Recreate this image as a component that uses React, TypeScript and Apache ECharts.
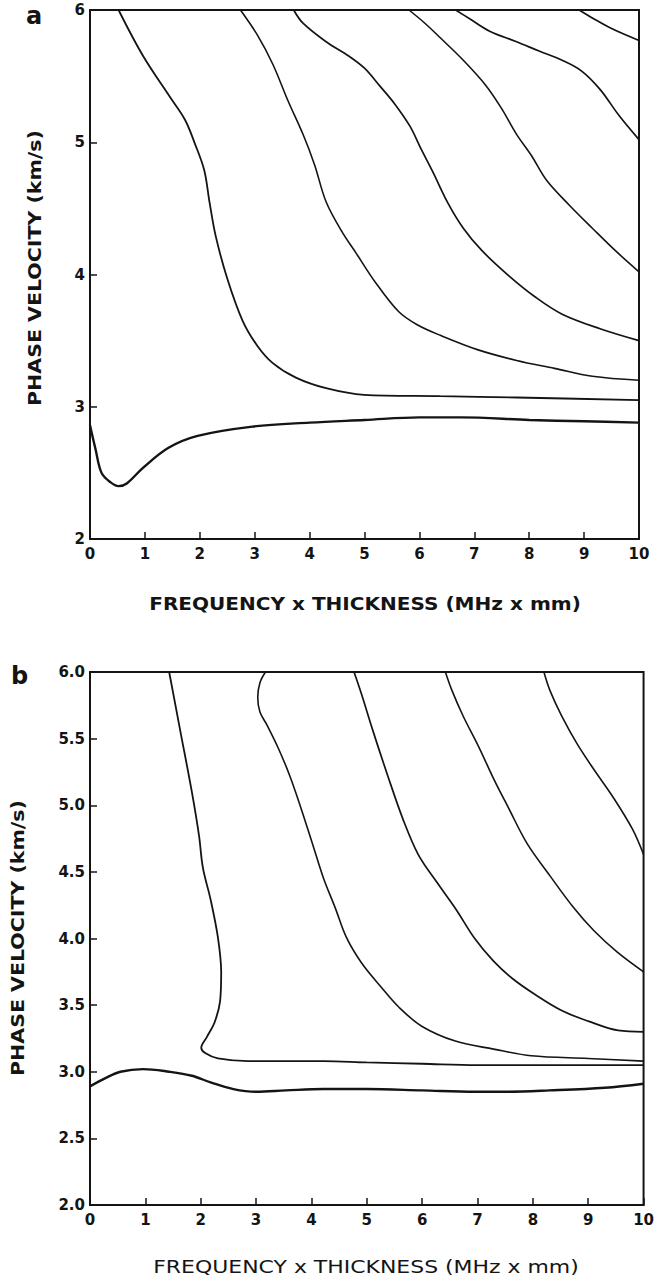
import React, { useEffect, useRef } from "react";
import * as echarts from "echarts";

// ---------- Panel a data (frequency x thickness, phase velocity) ----------
const aXTicks = [0, 1, 2, 3, 4, 5, 6, 7, 8, 9, 10];
const aYTicks = [2, 3, 4, 5, 6];

const aMode0: [number, number][] = [
  [0, 2.86], [0.1, 2.68], [0.21, 2.5], [0.37, 2.43], [0.52, 2.4], [0.67, 2.42],
  [0.97, 2.54], [1.43, 2.69], [1.96, 2.78], [2.96, 2.85], [4, 2.88], [5, 2.9],
  [6, 2.92], [6.76, 2.92], [8, 2.9], [9, 2.89], [10, 2.88],
];
const aMode1: [number, number][] = [
  [0.52, 6.0], [0.97, 5.65], [1.46, 5.34], [1.73, 5.17], [1.91, 4.99], [2.08, 4.79],
  [2.18, 4.54], [2.29, 4.29], [2.5, 3.97], [2.78, 3.65], [3.05, 3.46], [3.33, 3.33],
  [3.75, 3.22], [4.3, 3.14], [4.99, 3.09], [6.38, 3.08], [7.77, 3.07], [10, 3.05],
];
const aMode2: [number, number][] = [
  [2.74, 6.0], [3.05, 5.81], [3.33, 5.59], [3.61, 5.31], [3.88, 5.06], [4.09, 4.83],
  [4.3, 4.55], [4.58, 4.33], [4.85, 4.16], [5.2, 3.94], [5.62, 3.72], [5.96, 3.62],
  [6.38, 3.54], [7.07, 3.43], [7.77, 3.35], [8.46, 3.29], [9.15, 3.23], [10, 3.2],
];
const aMode3: [number, number][] = [
  [3.71, 6.0], [3.88, 5.9], [4.3, 5.76], [4.72, 5.65], [5.0, 5.56], [5.27, 5.43],
  [5.55, 5.29], [5.83, 5.12], [6.03, 4.95], [6.24, 4.78], [6.52, 4.54], [6.8, 4.35],
  [7.14, 4.18], [7.63, 3.99], [8.11, 3.83], [8.6, 3.7], [9.29, 3.59], [10, 3.5],
];
const aMode4: [number, number][] = [
  [5.81, 6.0], [6.1, 5.9], [6.38, 5.79], [6.8, 5.62], [7.21, 5.43], [7.49, 5.26],
  [7.77, 5.06], [8.04, 4.9], [8.32, 4.71], [8.74, 4.52], [9.15, 4.35], [9.57, 4.18],
  [10, 4.02],
];
const aMode5: [number, number][] = [
  [6.66, 6.0], [6.93, 5.93], [7.28, 5.84], [7.77, 5.76], [8.18, 5.69], [8.6, 5.62],
  [8.95, 5.54], [9.29, 5.4], [9.64, 5.2], [10, 5.02],
];
const aMode6: [number, number][] = [
  [8.91, 6.0], [9.15, 5.94], [9.5, 5.86], [10, 5.77],
];

// ---------- Panel b data ----------
const bXTicks = [0, 1, 2, 3, 4, 5, 6, 7, 8, 9, 10];
const bYTicks = [2.0, 2.5, 3.0, 3.5, 4.0, 4.5, 5.0, 5.5, 6.0];

const bMode0: [number, number][] = [
  [0, 2.89], [0.27, 2.95], [0.55, 3.0], [0.96, 3.02], [1.43, 3.0], [1.84, 2.97],
  [2.18, 2.92], [2.59, 2.87], [3.0, 2.85], [3.54, 2.86], [4.22, 2.87], [5, 2.87],
  [6, 2.86], [6.95, 2.85], [7.5, 2.85], [8.3, 2.86], [9.3, 2.88], [10, 2.91],
];
const bMode1: [number, number][] = [
  [1.43, 6.0], [1.63, 5.56], [1.84, 5.1], [1.97, 4.77], [2.04, 4.53], [2.18, 4.29],
  [2.31, 4.01], [2.37, 3.75], [2.35, 3.53], [2.25, 3.37], [2.11, 3.26], [2.01, 3.18],
  [2.08, 3.14], [2.31, 3.1], [2.86, 3.08], [3.4, 3.08], [4.22, 3.08], [5, 3.07],
  [6, 3.06], [7, 3.05], [8.3, 3.05], [10, 3.05],
];
const bMode2: [number, number][] = [
  [3.17, 6.0], [3.07, 5.92], [3.03, 5.81], [3.07, 5.7], [3.2, 5.6], [3.4, 5.43],
  [3.61, 5.22], [3.81, 4.98], [4.02, 4.71], [4.22, 4.45], [4.43, 4.23], [4.63, 4.01],
  [4.9, 3.82], [5.25, 3.64], [5.59, 3.48], [6.0, 3.34], [6.6, 3.23], [7.29, 3.17],
  [7.97, 3.12], [9.0, 3.1], [10, 3.08],
];
const bMode3: [number, number][] = [
  [4.77, 6.0], [4.9, 5.84], [5.11, 5.56], [5.38, 5.22], [5.65, 4.9], [5.93, 4.63],
  [6.27, 4.42], [6.61, 4.22], [6.95, 4.0], [7.29, 3.83], [7.63, 3.7], [8.04, 3.58],
  [8.52, 3.46], [9.0, 3.38], [9.54, 3.31], [10, 3.3],
];
const bMode4: [number, number][] = [
  [6.42, 6.0], [6.54, 5.86], [6.74, 5.67], [7.02, 5.44], [7.29, 5.2], [7.56, 4.98],
  [7.9, 4.71], [8.31, 4.47], [8.72, 4.24], [9.1, 4.06], [9.52, 3.9], [10, 3.75],
];
const bMode5: [number, number][] = [
  [8.2, 6.0], [8.31, 5.86], [8.52, 5.67], [8.8, 5.46], [9.1, 5.27], [9.45, 5.06],
  [9.8, 4.82], [10, 4.63],
];

const X_TITLE = "FREQUENCY x THICKNESS (MHz x mm)";
const Y_TITLE = "PHASE VELOCITY (km/s)";

const INK = "#141414";
const FONT = "'DejaVu Sans', 'Liberation Sans', sans-serif";

function lineSeries(data: [number, number][], idx: number, width: number) {
  return {
    type: "line",
    xAxisIndex: idx,
    yAxisIndex: idx,
    data,
    showSymbol: false,
    smooth: 0.35,
    smoothMonotone: "none",
    lineStyle: { color: INK, width },
    silent: true,
  };
}

function xAxisDef(idx: number, ticks: number[]) {
  return {
    type: "value",
    gridIndex: idx,
    min: ticks[0],
    max: ticks[ticks.length - 1],
    interval: ticks[1] - ticks[0],
    axisLine: { show: true, lineStyle: { color: INK, width: 2 } },
    axisTick: { show: true, inside: true, length: 7, lineStyle: { color: INK, width: 1.5 } },
    splitLine: { show: false },
    axisLabel: {
      color: INK,
      fontFamily: FONT,
      fontWeight: "bold",
      fontSize: 15,
      margin: 7,
    },
  };
}

function yAxisDef(idx: number, ticks: number[], decimals: number) {
  return {
    type: "value",
    gridIndex: idx,
    min: ticks[0],
    max: ticks[ticks.length - 1],
    interval: ticks[1] - ticks[0],
    axisLine: { show: true, lineStyle: { color: INK, width: 2 } },
    axisTick: { show: true, inside: true, length: 7, lineStyle: { color: INK, width: 1.5 } },
    splitLine: { show: false },
    axisLabel: {
      color: INK,
      fontFamily: FONT,
      fontWeight: "bold",
      fontSize: 15,
      margin: 5,
      formatter: (v: number) => v.toFixed(decimals),
    },
  };
}

export default function App() {
  const ref = useRef<HTMLDivElement>(null);

  useEffect(() => {
    if (!ref.current) return;
    const chart = echarts.init(ref.current, undefined, { renderer: "svg" });
    chart.setOption({
      animation: false,
      backgroundColor: "#ffffff",
      grid: [
        { left: 90, top: 10, width: 549, height: 529, show: true, borderColor: INK, borderWidth: 2, backgroundColor: "transparent" },
        { left: 90, top: 672, width: 561, height: 533, show: true, borderColor: INK, borderWidth: 2, backgroundColor: "transparent" },
      ],
      xAxis: [xAxisDef(0, aXTicks), xAxisDef(1, bXTicks)],
      yAxis: [yAxisDef(0, aYTicks, 0), yAxisDef(1, bYTicks, 1)],
      series: [
        lineSeries(aMode0, 0, 2.4),
        lineSeries(aMode1, 0, 1.8),
        lineSeries(aMode2, 0, 1.6),
        lineSeries(aMode3, 0, 1.7),
        lineSeries(aMode4, 0, 1.6),
        lineSeries(aMode5, 0, 1.7),
        lineSeries(aMode6, 0, 1.7),
        lineSeries(bMode0, 1, 2.4),
        lineSeries(bMode1, 1, 1.8),
        lineSeries(bMode2, 1, 1.6),
        lineSeries(bMode3, 1, 1.7),
        lineSeries(bMode4, 1, 1.6),
        lineSeries(bMode5, 1, 1.6),
      ],
      graphic: [
        {
          type: "text",
          left: 26,
          top: 4,
          style: { text: "a", fill: INK, font: `bold 24px ${FONT}` },
        },
        {
          type: "text",
          left: 11,
          top: 664,
          style: { text: "b", fill: INK, font: `bold 24px ${FONT}` },
        },
        {
          type: "text",
          x: 35,
          y: 268,
          rotation: Math.PI / 2,
          scaleX: 1.14,
          style: {
            text: Y_TITLE,
            fill: INK,
            font: `bold 18px ${FONT}`,
            align: "center",
            verticalAlign: "middle",
          },
        },
        {
          type: "text",
          x: 365,
          y: 604,
          scaleX: 1.18,
          style: {
            text: X_TITLE,
            fill: INK,
            font: `bold 17px ${FONT}`,
            align: "center",
            verticalAlign: "middle",
          },
        },
        {
          type: "text",
          x: 18,
          y: 938,
          rotation: Math.PI / 2,
          scaleX: 1.14,
          style: {
            text: Y_TITLE,
            fill: INK,
            font: `bold 18px ${FONT}`,
            align: "center",
            verticalAlign: "middle",
          },
        },
        {
          type: "text",
          x: 366,
          y: 1267,
          scaleX: 1.22,
          style: {
            text: X_TITLE,
            fill: INK,
            font: `18px ${FONT}`,
            align: "center",
            verticalAlign: "middle",
          },
        },
      ],
    });
    return () => chart.dispose();
  }, []);

  return (
    <div
      ref={ref}
      style={{ position: "absolute", left: 0, top: 0, width: 657, height: 1281, background: "#fff" }}
    />
  );
}
